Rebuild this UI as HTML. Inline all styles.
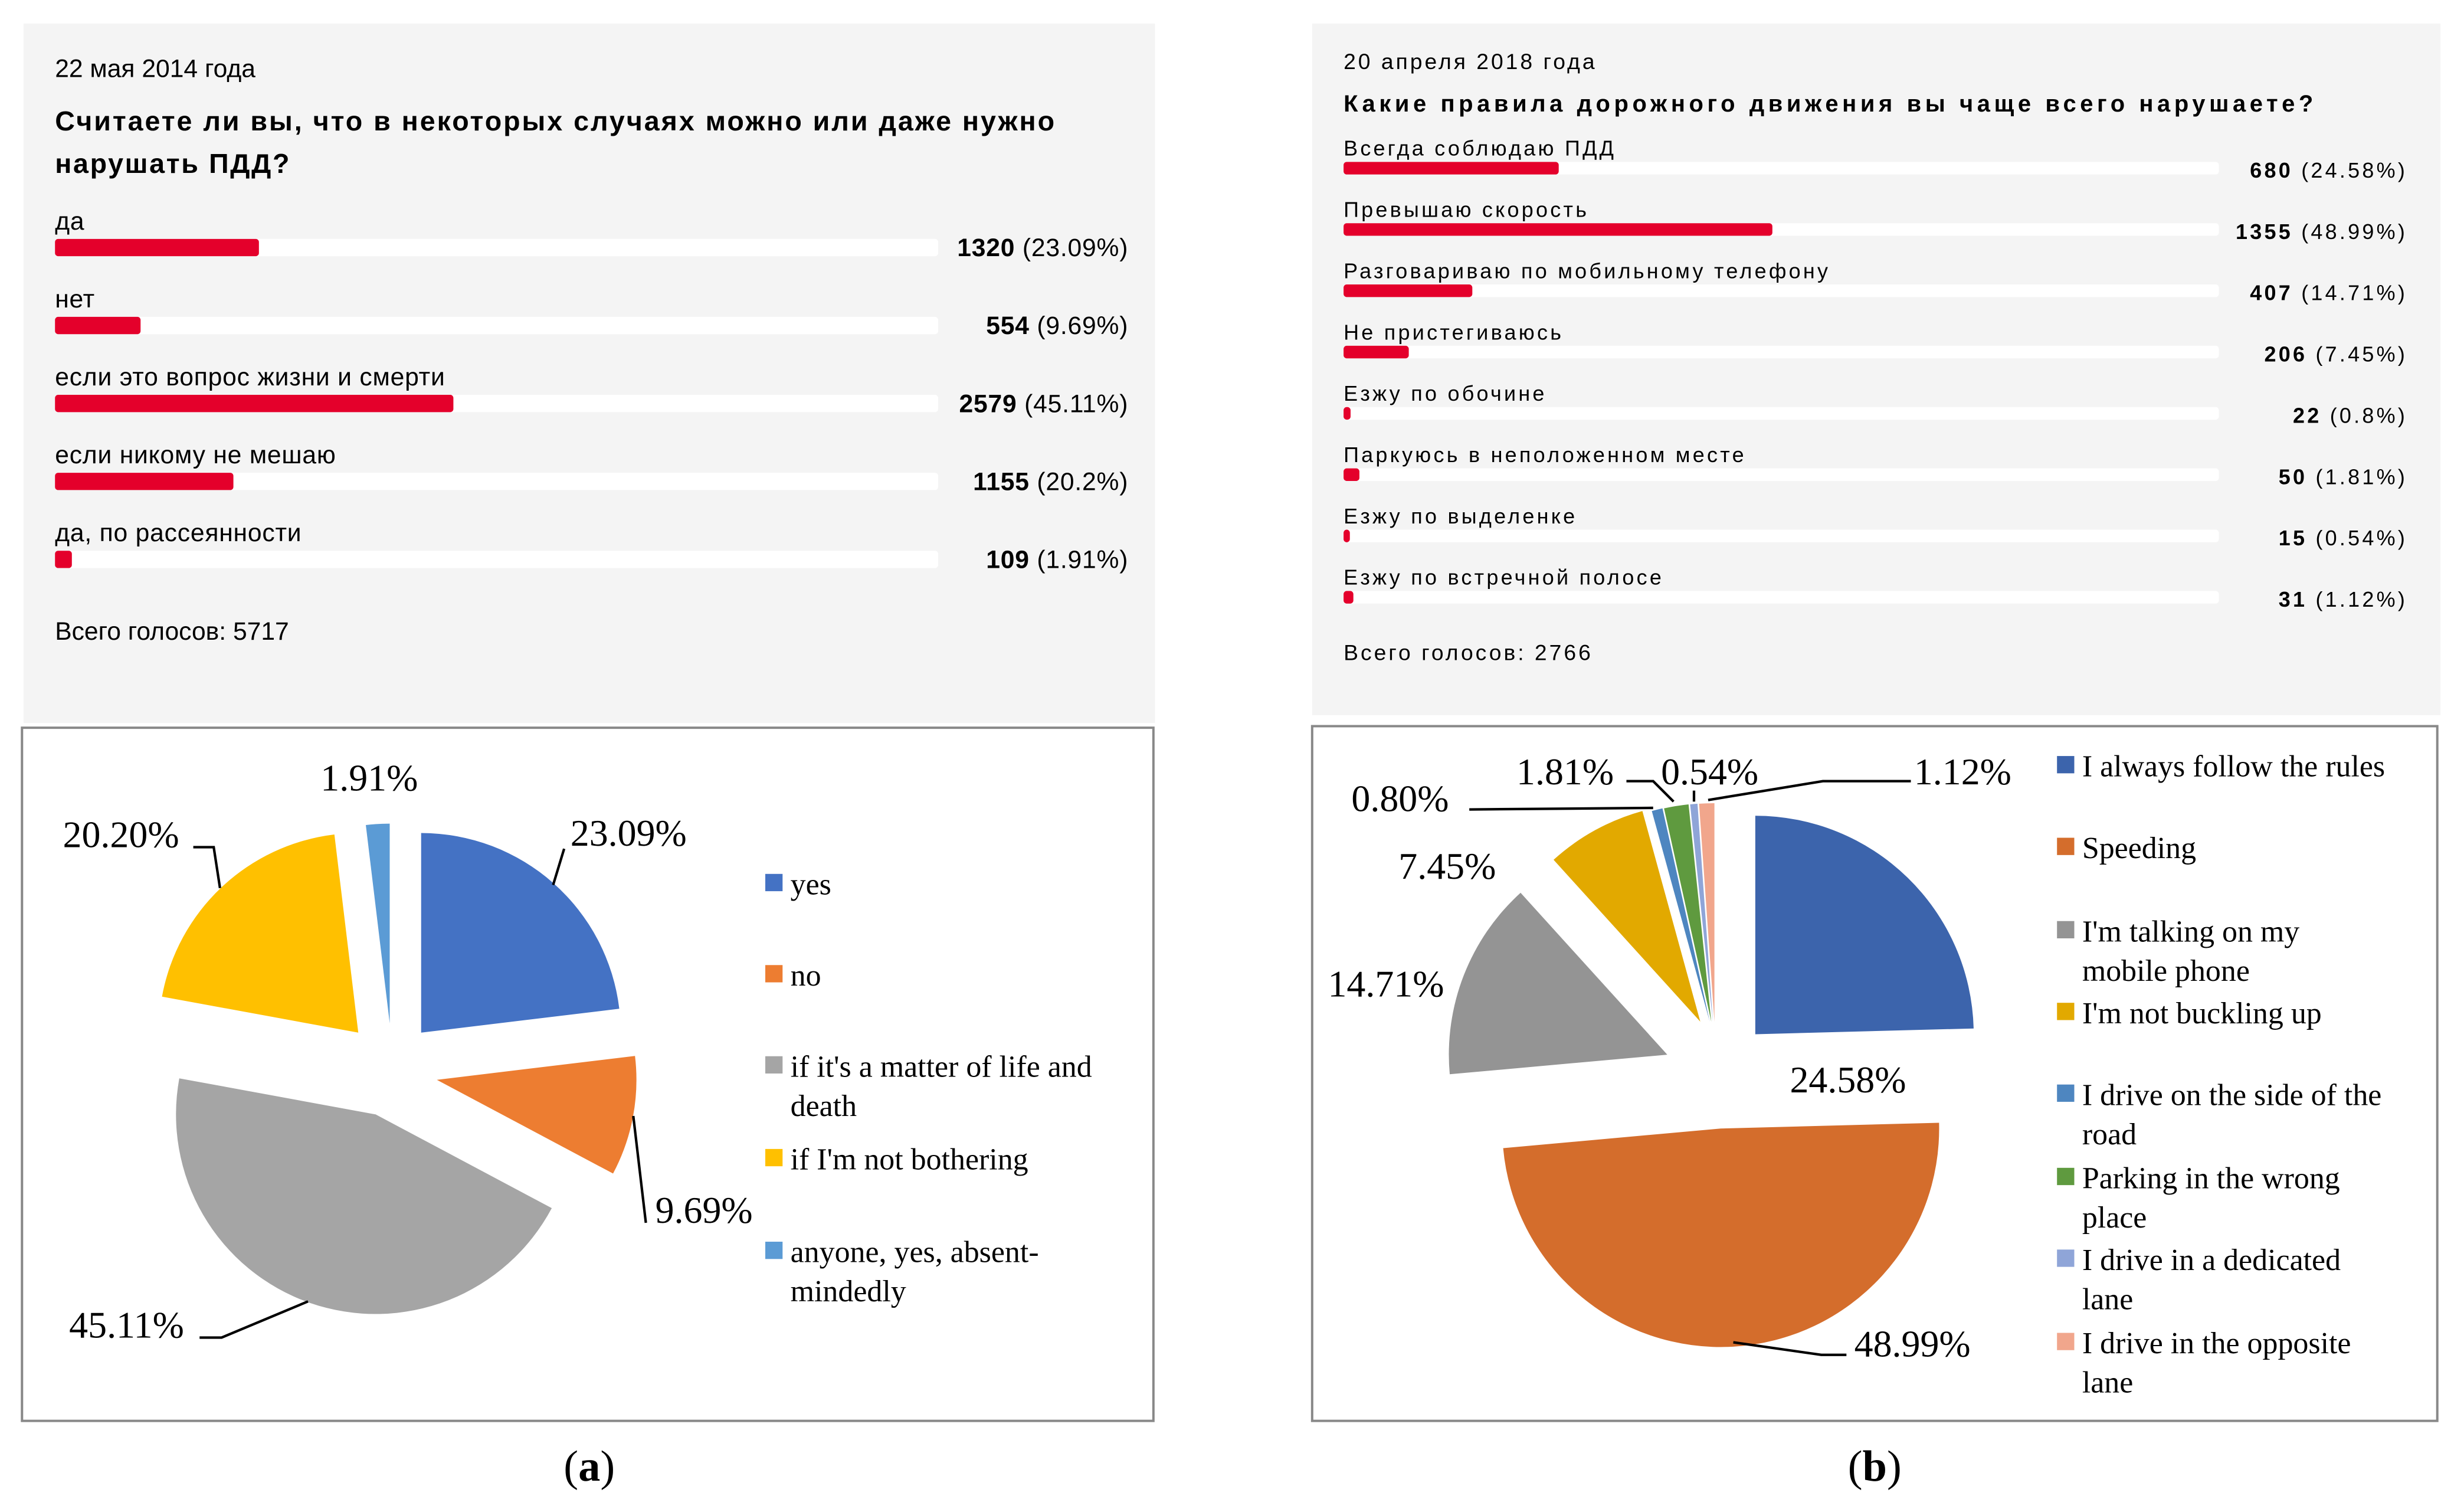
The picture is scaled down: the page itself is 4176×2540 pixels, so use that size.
<!DOCTYPE html>
<html><head><meta charset="utf-8"><style>
html,body{margin:0;padding:0;background:#fff;}
svg{display:block;}
.sans{font-family:"Liberation Sans",Arial,sans-serif;}
.serif{font-family:"Liberation Serif","DejaVu Serif",serif;}
.wb{letter-spacing:1.5px;}
</style></head><body>
<svg id="fig" width="4176" height="2540" viewBox="0 0 1568 953.7" preserveAspectRatio="none" xmlns="http://www.w3.org/2000/svg">
<rect x="15" y="15" width="720" height="445" fill="#f4f4f4"/>
<rect x="835" y="15" width="718" height="440" fill="#f4f4f4"/>
<rect x="14" y="463" width="720" height="441" fill="#fff" stroke="#888" stroke-width="1.5"/>
<rect x="835" y="462" width="716" height="442" fill="#fff" stroke="#888" stroke-width="1.5"/>
<text x="35" y="49" font-size="16" class="sans">22 мая 2014 года</text>
<text x="35" y="83" font-size="17.5" font-weight="bold" class="sans" textLength="636" lengthAdjust="spacing">Считаете ли вы, что в некоторых случаях можно или даже нужно</text>
<text x="35" y="110" font-size="17.5" font-weight="bold" class="sans" letter-spacing="1">нарушать ПДД?</text>
<text x="35" y="407" font-size="16" class="sans">Всего голосов: 5717</text>
<text x="855" y="44" font-size="14" class="sans wb">20 апреля 2018 года</text>
<text x="855" y="71" font-size="15" font-weight="bold" class="sans" textLength="617" lengthAdjust="spacing">Какие правила дорожного движения вы чаще всего нарушаете?</text>
<text x="855" y="420" font-size="14" class="sans wb">Всего голосов: 2766</text>
<text x="375" y="942" font-size="28" text-anchor="middle" class="serif">(<tspan font-weight="bold">a</tspan>)</text>
<text x="1193" y="942" font-size="28" text-anchor="middle" class="serif">(<tspan font-weight="bold">b</tspan>)</text>
<g id="layer"></g>
</svg>
<script>
const aLabels = ["да","нет","если это вопрос жизни и смерти","если никому не мешаю","да, по рассеянности"];
const aVotes = [1320,554,2579,1155,109];
const aPct = [23.09,9.69,45.11,20.2,1.91];
const aLegend = [["yes"],["no"],[" if it's a matter of life and","death"],["if I'm not bothering"],["anyone, yes, absent-","mindedly"]];
const aColors = ["#4472c4","#ed7d31","#a5a5a5","#ffc000","#5b9bd5"];
const bLabels = ["Всегда соблюдаю ПДД","Превышаю скорость","Разговариваю по мобильному телефону","Не пристегиваюсь","Езжу по обочине","Паркуюсь в неположенном месте","Езжу по выделенке","Езжу по встречной полосе"];
const bVotes = [680,1355,407,206,22,50,15,31];
const bPct = [24.58,48.99,14.71,7.45,0.8,1.81,0.54,1.12];
const bLegend = [["I always follow the rules"],["Speeding"],["I'm talking on my","mobile phone"],["I'm not buckling up"],["I drive on the side of the","road"],["Parking in the wrong","place"],["I drive in a dedicated","lane"],["I drive in the opposite","lane"]];
const bColors = ["#3c64ac","#d46d2c","#949494","#e2a900","#4e86c0","#5f9a3f","#8fa5d8","#f1a68c"];

const NS="http://www.w3.org/2000/svg";
const layer=document.getElementById('layer');
function mk(tag,attrs,txt){const e=document.createElementNS(NS,tag);for(const k in attrs)e.setAttribute(k,attrs[k]);if(txt!==undefined)e.textContent=txt;layer.appendChild(e);return e;}

function poll(labels,votes,pct,x0,x1,vx,y0,step,fs,bh,boff,toff,ls){
  labels.forEach((l,i)=>{
    const y=y0+i*step;
    const t=mk('text',{x:x0,y:y,'font-size':fs,class:'sans','letter-spacing':ls},l);
    
    
    const tr=mk('rect',{x:x0,y:y+boff,width:x1-x0,height:bh,fill:'#fff',rx:2});
    
    
    const b=mk('rect',{x:x0,y:y+boff,width:Math.max(4,(x1-x0)*pct[i]/100),height:bh,fill:'#e4002b',rx:2});
    
    
    const v=mk('text',{x:vx,y:y+toff,'font-size':fs,'text-anchor':'end',class:'sans','letter-spacing':ls});
    
    
    v.innerHTML='<tspan font-weight="bold">'+votes[i]+'</tspan> ('+pct[i]+'%)';
  });
}
poll(aLabels,aVotes,aPct,35,597,718,146,49.6,16,11,6,17,0.3);
poll(bLabels,bVotes,bPct,855,1412,1532,99,39,13.5,8,4,14,1.6);

function pie(pct,colors,apexes,r,name){
  let a=0;
  pct.forEach((p,i)=>{
    const a0=a, a1=a+p*3.6; a=a1;
    const [cx,cy]=apexes[i];
    const rad=d=>d*Math.PI/180;
    const x0=cx+r*Math.sin(rad(a0)), y0=cy-r*Math.cos(rad(a0));
    const x1=cx+r*Math.sin(rad(a1)), y1=cy-r*Math.cos(rad(a1));
    const large=(a1-a0)>180?1:0;
    const s=mk('path',{d:`M${cx},${cy}L${x0},${y0}A${r},${r} 0 ${large} 1 ${x1},${y1}Z`,fill:colors[i]});
    
    
  });
}
pie(aPct,aColors,[[268,657],[278,687],[239,709],[228,657],[248,651]],127,'pie-a');
pie(bPct,bColors,[[1117,658],[1095,718],[1061,671],[1082,650],[1088,650],[1089,650],[1090,650],[1091,650]],139,'pie-b');

function lbl(x,y,t,name){const e=mk('text',{x:x,y:y,'font-size':24,class:'serif'},t);}
function ld(pts,name){const e=mk('polyline',{points:pts,fill:'none',stroke:'#000','stroke-width':1.6});}
const fmt=v=>v.toFixed(2)+'%';
lbl(363,538,fmt(aPct[0]),'pie-a-label-yes'); ld('352,563 359,540','leader-a-yes');
lbl(417,778,fmt(aPct[1]),'pie-a-label-no'); ld('403,710 411,778','leader-a-no');
lbl(44,851,fmt(aPct[2]),'pie-a-label-life'); ld('196,828 141,851 127,851','leader-a-life');
lbl(40,539,fmt(aPct[3]),'pie-a-label-bother'); ld('140,565 136,539 123,539','leader-a-bother');
lbl(204,503,fmt(aPct[4]),'pie-a-label-absent');
lbl(1139,695,fmt(bPct[0]),'pie-b-label-rules');
lbl(1180,863,fmt(bPct[1]),'pie-b-label-speeding'); ld('1103,854 1159,862 1175,862','leader-b-speeding');
lbl(845,634,fmt(bPct[2]),'pie-b-label-phone');
lbl(890,559,fmt(bPct[3]),'pie-b-label-buckle');
lbl(860,516,fmt(bPct[4]),'pie-b-label-side'); ld('935,515 1052,514','leader-b-side');
lbl(965,499,fmt(bPct[5]),'pie-b-label-parking'); ld('1035,497 1052,497 1065,510','leader-b-parking');
lbl(1057,499,fmt(bPct[6]),'pie-b-label-lane'); ld('1078,503 1078,510','leader-b-lane');
lbl(1218,499,fmt(bPct[7]),'pie-b-label-opposite'); ld('1216,497 1160,497 1087,509','leader-b-opposite');

function legend(items,colors,x,ys,fs,name){
  items.forEach((lines,i)=>{
    const sq=mk('rect',{x:x,y:ys[i]-13,width:11,height:11,fill:colors[i]});
    
    
    lines.forEach((ln,j)=>{
      const t=mk('text',{x:x+16,y:ys[i]+j*25,'font-size':fs,class:'serif','xml:space':'preserve'},ln);
      
      
    });
  });
}
legend(aLegend,aColors,487,[569,627,685,744,803],19.5,'legend-a');
legend(bLegend,bColors,1309,[494,546,599,651,703,756,808,861],19.5,'legend-b');
</script>
</body></html>
